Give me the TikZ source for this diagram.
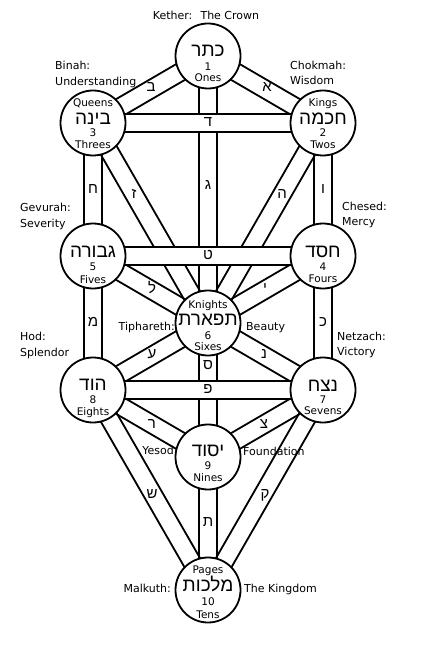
\documentclass[tikz,border=0pt]{standalone}
\usepackage{fontspec}
\setmainfont{DejaVu Sans}
\newfontfamily\heb[Script=Hebrew]{Liberation Sans}
\TeXXeTstate=1
\usetikzlibrary{calc}
\pgfdeclarelayer{canvas}
\pgfdeclarelayer{back}
\pgfdeclarelayer{mid}
\pgfsetlayers{canvas,back,mid,main}
\newcommand\bandlines[2]{%
  \draw[bandline] ($(#1.center)!9pt!90:(#2.center)$) -- ($(#2.center)!9pt!-90:(#1.center)$)
                  ($(#1.center)!9pt!-90:(#2.center)$) -- ($(#2.center)!9pt!90:(#1.center)$);}
\newcommand\bandfilled[2]{%
  \filldraw[bandline,fill=white] ($(#1.center)!9pt!90:(#2.center)$) -- ($(#2.center)!9pt!-90:(#1.center)$)
                  -- ($(#2.center)!9pt!90:(#1.center)$) -- ($(#1.center)!9pt!-90:(#2.center)$) -- cycle;}
\begin{document}
\begin{tikzpicture}[x=1pt,y=-1pt,
  sef/.style={circle,draw,fill=white,line width=1.8pt,minimum size=65pt,inner sep=0pt},
  bandline/.style={line width=1.8pt},
  lbl/.style={inner sep=0pt,font=\fontsize{10.5}{12}\selectfont,text height=7.5pt,text depth=0pt},
  olbl/.style={inner sep=0pt,font=\fontsize{11}{13}\selectfont,text height=8pt,text depth=0pt},
  lblw/.style={olbl,anchor=west},
  hname/.style={inner sep=0pt,font=\heb\fontsize{19}{21}\selectfont,text height=9.5pt,text depth=0pt},
  pl/.style={inner sep=0pt,font=\heb\fontsize{15}{17}\selectfont,text height=7.5pt,text depth=0pt}]
\begin{pgfonlayer}{canvas}
\fill[white] (0,0) rectangle (422,655);
\end{pgfonlayer}
\useasboundingbox (0,0) rectangle (422,655);

% circles
\node[sef] (kether) at (208,56) {};
\node[sef] (chokmah) at (323,123) {};
\node[sef] (binah) at (93,123) {};
\node[sef] (chesed) at (323,256) {};
\node[sef] (gevurah) at (93,256) {};
\node[sef] (tiphareth) at (208,323) {};
\node[sef] (netzach) at (323,390) {};
\node[sef] (hod) at (93,390) {};
\node[sef] (yesod) at (208,457) {};
\node[sef] (malkuth) at (208,590) {};

% paths
\begin{pgfonlayer}{back}
\bandlines{kether}{chokmah}
\bandlines{kether}{binah}
\bandlines{kether}{tiphareth}
\bandlines{chokmah}{tiphareth}
\bandlines{chokmah}{chesed}
\bandlines{binah}{tiphareth}
\bandlines{binah}{gevurah}
\bandlines{chesed}{tiphareth}
\bandlines{chesed}{netzach}
\bandlines{gevurah}{tiphareth}
\bandlines{gevurah}{hod}
\bandlines{tiphareth}{netzach}
\bandlines{tiphareth}{yesod}
\bandlines{tiphareth}{hod}
\bandlines{netzach}{yesod}
\bandlines{netzach}{malkuth}
\bandlines{hod}{yesod}
\bandlines{hod}{malkuth}
\bandlines{yesod}{malkuth}
\end{pgfonlayer}
\begin{pgfonlayer}{mid}
\bandfilled{binah}{chokmah}
\bandfilled{gevurah}{chesed}
\bandfilled{hod}{netzach}
\end{pgfonlayer}

% path letters
\node[pl] (p-aleph) at (267,88) {א};
\node[pl] (p-beth) at (151,88) {ב};
\node[pl] (p-gimel) at (208,186) {ג};
\node[pl] (p-daleth) at (208,123) {ד};
\node[pl] (p-he) at (282,195) {ה};
\node[pl] (p-vav) at (323,190) {ו};
\node[pl] (p-zayin) at (134,195) {ז};
\node[pl] (p-cheth) at (93,190) {ח};
\node[pl] (p-teth) at (208,256) {ט};
\node[pl] (p-yod) at (265,289) {י};
\node[pl] (p-kaph) at (323,323) {כ};
\node[pl] (p-lamed) at (152,290) {ל};
\node[pl] (p-mem) at (93,323) {מ};
\node[pl] (p-nun) at (264,355) {נ};
\node[pl] (p-samekh) at (208,366) {ס};
\node[pl] (p-ayin) at (152,355) {ע};
\node[pl] (p-pe) at (208,390) {פ};
\node[pl] (p-tzaddi) at (264,425) {צ};
\node[pl] (p-qoph) at (265,495) {ק};
\node[pl] (p-resh) at (152,425) {ר};
\node[pl] (p-shin) at (152,495) {ש};
\node[pl] (p-tav) at (208,523) {ת};

% inside circles
\node[hname] (k-h) at (208,52) {\beginR כתר\endR};
\node[lbl] (k-n) at (208,67) {1};
\node[lbl] (k-w) at (208,78) {Ones};

\node[lbl] (c-t) at (323,103) {Kings};
\node[hname] (c-h) at (323,120) {\beginR חכמה\endR};
\node[lbl] (c-n) at (323,133) {2};
\node[lbl] (c-w) at (323,145) {Twos};

\node[lbl] (b-t) at (93,103) {Queens};
\node[hname] (b-h) at (93,120) {\beginR בינה\endR};
\node[lbl] (b-n) at (93,133) {3};
\node[lbl] (b-w) at (93,145) {Threes};

\node[hname] (ch-h) at (323,253) {\beginR חסד\endR};
\node[lbl] (ch-n) at (323,267) {4};
\node[lbl] (ch-w) at (323,279) {Fours};

\node[hname] (g-h) at (93,253) {\beginR גבורה\endR};
\node[lbl] (g-n) at (93,267) {5};
\node[lbl] (g-w) at (93,280) {Fives};

\node[lbl] (t-t) at (208,305) {Knights};
\node[hname] (t-h) at (208,321) {\beginR תפארת\endR};
\node[lbl] (t-n) at (208,336) {6};
\node[lbl] (t-w) at (208,347) {Sixes};

\node[hname] (n-h) at (323,387) {\beginR נצח\endR};
\node[lbl] (n-n) at (323,400) {7};
\node[lbl] (n-w) at (323,411) {Sevens};

\node[hname] (h-h) at (93,386) {\beginR הוד\endR};
\node[lbl] (h-n) at (93,400) {8};
\node[lbl] (h-w) at (93,412) {Eights};

\node[hname] (y-h) at (208,452) {\beginR יסוד\endR};
\node[lbl] (y-n) at (208,466) {9};
\node[lbl] (y-w) at (208,478) {Nines};

\node[lbl] (m-t) at (208,570) {Pages};
\node[hname] (m-h) at (208,587) {\beginR מלכות\endR};
\node[lbl] (m-n) at (208,602) {10};
\node[lbl] (m-w) at (208,615) {Tens};

% outside labels
\node[olbl] (l-kether) at (206,16) {Kether:~ The Crown};
\node[lblw] (l-binah1) at (55,66) {Binah:};
\node[lblw] (l-binah2) at (55,82) {Understanding};
\node[lblw] (l-chok1) at (290,66) {Chokmah:};
\node[lblw] (l-chok2) at (290,81) {Wisdom};
\node[lblw] (l-gev1) at (20,207) {Gevurah:};
\node[lblw] (l-gev2) at (20,223) {Severity};
\node[lblw] (l-ches1) at (342,206) {Chesed:};
\node[lblw] (l-ches2) at (342,221) {Mercy};
\node[olbl,anchor=east] (l-tiph) at (175,326) {Tiphareth:};
\node[lblw] (l-beauty) at (246,326) {Beauty};
\node[lblw] (l-hod1) at (20,336) {Hod:};
\node[lblw] (l-hod2) at (20,352) {Splendor};
\node[lblw] (l-netz1) at (337,336) {Netzach:};
\node[lblw] (l-netz2) at (337,351) {Victory};
\node[olbl,anchor=east] (l-yesod) at (174,450) {Yesod};
\node[lblw] (l-found) at (243,451) {Foundation};
\node[olbl,anchor=east] (l-malk) at (171,588) {Malkuth:};
\node[lblw] (l-king) at (244,588) {The Kingdom};
\end{tikzpicture}
\end{document}
